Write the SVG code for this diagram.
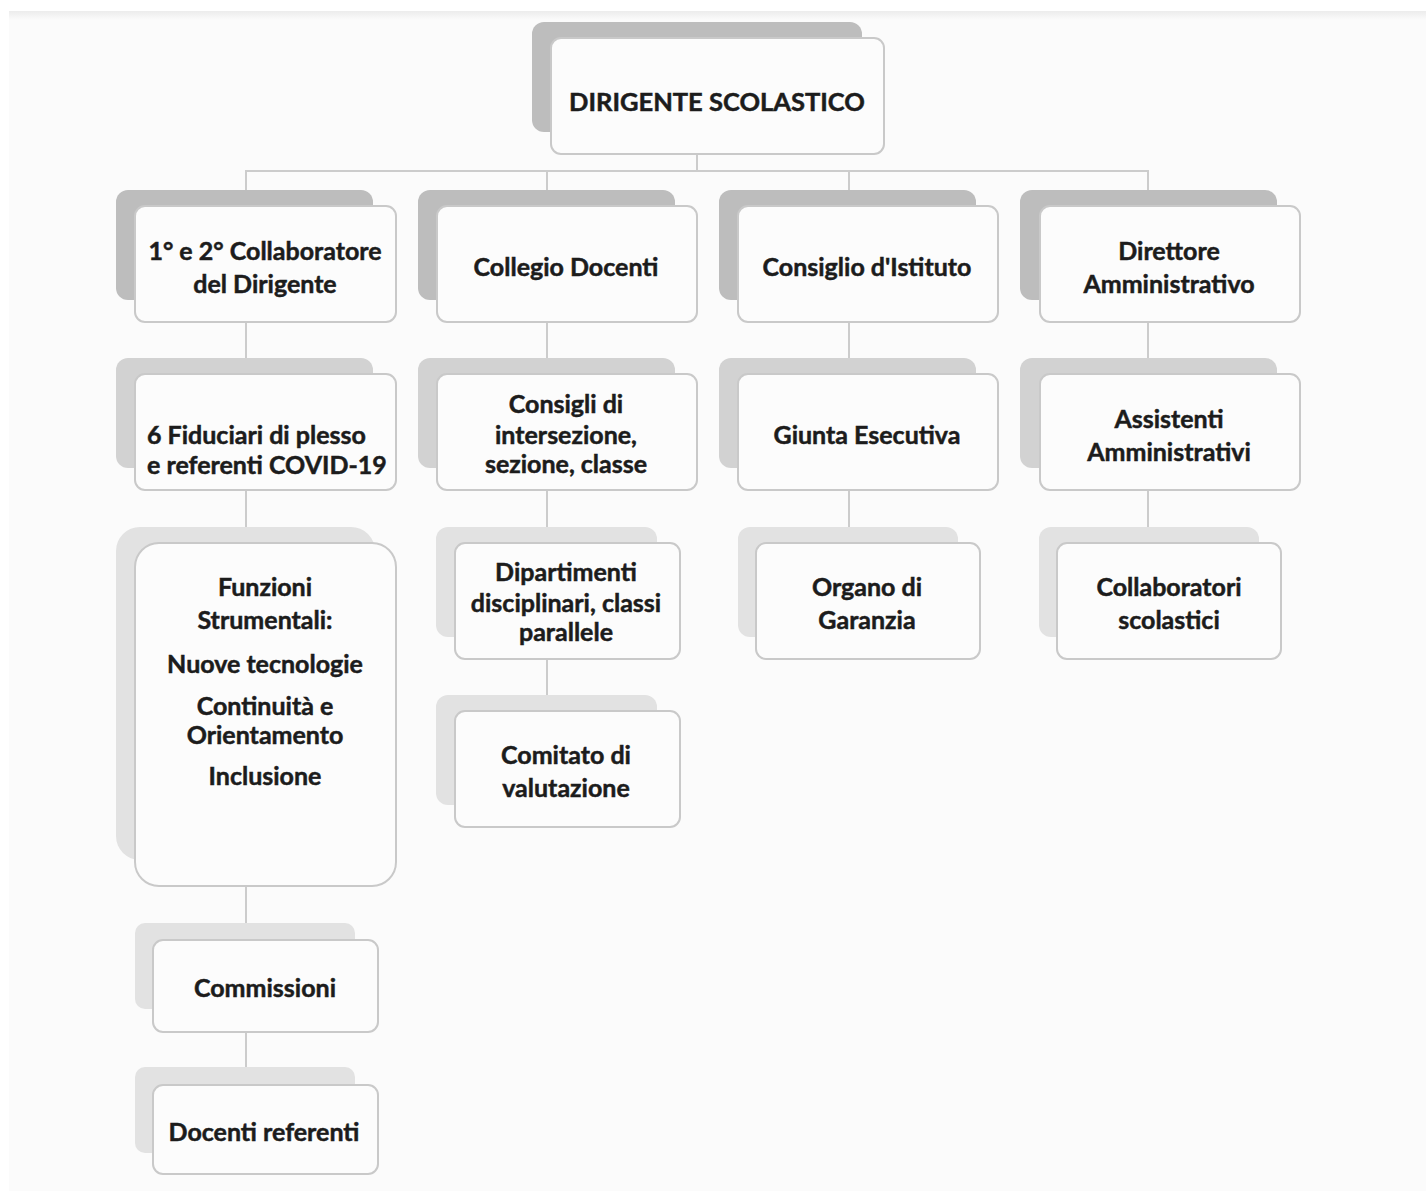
<svg xmlns="http://www.w3.org/2000/svg" width="1426" height="1191" viewBox="0 0 1426 1191">
<defs>
<linearGradient id="topShade" x1="0" y1="0" x2="0" y2="1">
<stop offset="0" stop-color="#ececec"/>
<stop offset="1" stop-color="#fbfbfb"/>
</linearGradient>
<style>
.bg{fill:#fbfbfb}
.sh1{fill:#bdbdbd}
.sh2{fill:#d2d2d2}
.sh3{fill:#e2e2e2}
.box{fill:#fcfcfc;stroke:#c9c9c9;stroke-width:2}
.ln{stroke:#cccccc;stroke-width:2;fill:none}
text{font-family:Lato,"Open Sans","Liberation Sans",sans-serif;font-weight:bold;font-size:25px;fill:#1c1c1c;stroke:#1c1c1c;stroke-width:0.5;text-anchor:middle}
.big{font-size:25.5px}
.l{text-anchor:start}
</style>
</defs>
<rect x="0" y="0" width="1426" height="1191" fill="#ffffff"/>
<rect class="bg" x="9" y="11" width="1417" height="1180"/>
<rect x="9" y="11" width="1417" height="9" fill="url(#topShade)"/>

<g id="connectors">
<path class="ln" d="M697 154 V171 M246 190 V171 H1148 V190 M547 171 V190 M849 171 V190"/>
<path class="ln" d="M246 322 V358 M246 490 V527 M246 886 V923 M246 1032 V1067"/>
<path class="ln" d="M547 322 V358 M547 490 V527 M547 659 V695"/>
<path class="ln" d="M849 322 V358 M849 490 V527"/>
<path class="ln" d="M1148 322 V358 M1148 490 V527"/>
</g>

<g id="n-dirigente">
<rect class="sh1" x="532" y="22" width="330" height="110" rx="12"/>
<rect class="box" x="551" y="38" width="333" height="116" rx="10"/>
<text class="big" x="717" y="111">DIRIGENTE SCOLASTICO</text>
</g>

<g id="n-collaboratore">
<rect class="sh1" x="116" y="190" width="257" height="110" rx="12"/>
<rect class="box" x="135" y="206" width="261" height="116" rx="10"/>
<text x="265" y="260">1° e 2° Collaboratore</text>
<text x="265" y="293">del Dirigente</text>
</g>

<g id="n-collegio">
<rect class="sh1" x="418" y="190" width="257" height="110" rx="12"/>
<rect class="box" x="437" y="206" width="260" height="116" rx="10"/>
<text x="566" y="276">Collegio Docenti</text>
</g>

<g id="n-consiglio">
<rect class="sh1" x="719" y="190" width="257" height="110" rx="12"/>
<rect class="box" x="738" y="206" width="260" height="116" rx="10"/>
<text x="867" y="276">Consiglio d'Istituto</text>
</g>

<g id="n-direttore">
<rect class="sh1" x="1020" y="190" width="257" height="110" rx="12"/>
<rect class="box" x="1040" y="206" width="260" height="116" rx="10"/>
<text x="1169" y="260">Direttore</text>
<text x="1169" y="293">Amministrativo</text>
</g>

<g id="n-fiduciari">
<rect class="sh2" x="116" y="358" width="257" height="110" rx="12"/>
<rect class="box" x="135" y="374" width="261" height="116" rx="10"/>
<text class="l" x="147" y="444">6 Fiduciari di plesso</text>
<text class="l" x="147" y="474">e referenti COVID-19</text>
</g>

<g id="n-consigli">
<rect class="sh2" x="418" y="358" width="257" height="110" rx="12"/>
<rect class="box" x="437" y="374" width="260" height="116" rx="10"/>
<text x="566" y="413">Consigli di</text>
<text x="566" y="444">intersezione,</text>
<text x="566" y="473">sezione, classe</text>
</g>

<g id="n-giunta">
<rect class="sh2" x="719" y="358" width="257" height="110" rx="12"/>
<rect class="box" x="738" y="374" width="260" height="116" rx="10"/>
<text x="867" y="444">Giunta Esecutiva</text>
</g>

<g id="n-assistenti">
<rect class="sh2" x="1020" y="358" width="257" height="110" rx="12"/>
<rect class="box" x="1040" y="374" width="260" height="116" rx="10"/>
<text x="1169" y="428">Assistenti</text>
<text x="1169" y="461">Amministrativi</text>
</g>

<g id="n-funzioni">
<rect class="sh3" x="116" y="527" width="259" height="333" rx="24"/>
<rect class="box" x="135" y="543" width="261" height="343" rx="24"/>
<text x="265" y="596">Funzioni</text>
<text x="265" y="629">Strumentali:</text>
<text x="265" y="673">Nuove tecnologie</text>
<text x="265" y="715">Continuità e</text>
<text x="265" y="744">Orientamento</text>
<text x="265" y="785">Inclusione</text>
</g>

<g id="n-dipartimenti">
<rect class="sh3" x="436" y="527" width="221" height="110" rx="12"/>
<rect class="box" x="455" y="543" width="225" height="116" rx="10"/>
<text x="566" y="581">Dipartimenti</text>
<text x="566" y="612">disciplinari, classi</text>
<text x="566" y="641">parallele</text>
</g>

<g id="n-organo">
<rect class="sh3" x="738" y="527" width="220" height="110" rx="12"/>
<rect class="box" x="756" y="543" width="224" height="116" rx="10"/>
<text x="867" y="596">Organo di</text>
<text x="867" y="629">Garanzia</text>
</g>

<g id="n-collaboratori">
<rect class="sh3" x="1039" y="527" width="220" height="110" rx="12"/>
<rect class="box" x="1057" y="543" width="224" height="116" rx="10"/>
<text x="1169" y="596">Collaboratori</text>
<text x="1169" y="629">scolastici</text>
</g>

<g id="n-comitato">
<rect class="sh3" x="436" y="695" width="221" height="110" rx="12"/>
<rect class="box" x="455" y="711" width="225" height="116" rx="10"/>
<text x="566" y="764">Comitato di</text>
<text x="566" y="797">valutazione</text>
</g>

<g id="n-commissioni">
<rect class="sh3" x="135" y="923" width="220" height="86" rx="10"/>
<rect class="box" x="153" y="940" width="225" height="92" rx="10"/>
<text x="265" y="997">Commissioni</text>
</g>

<g id="n-docenti">
<rect class="sh3" x="135" y="1067" width="220" height="86" rx="10"/>
<rect class="box" x="153" y="1085" width="225" height="89" rx="10"/>
<text x="264" y="1141">Docenti referenti</text>
</g>
</svg>
